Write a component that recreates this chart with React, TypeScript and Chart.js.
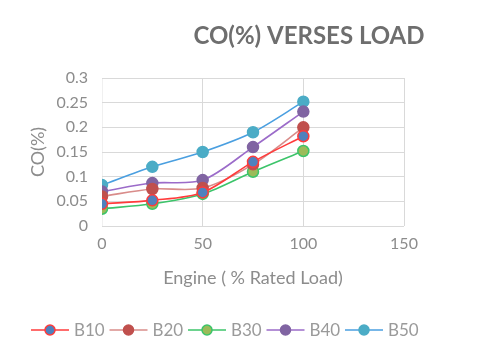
import React, { useEffect, useRef } from "react";
import { Chart, registerables } from "chart.js";
Chart.register(...registerables);

const loads = [0, 25, 50, 75, 100];
const b10 = [0.045, 0.052, 0.068, 0.13, 0.182];
const b20 = [0.06, 0.075, 0.077, 0.125, 0.2];
const b30 = [0.035, 0.045, 0.065, 0.11, 0.152];
const b40 = [0.07, 0.087, 0.093, 0.16, 0.232];
const b50 = [0.083, 0.12, 0.15, 0.19, 0.252];
const seriesNames = ["B10", "B20", "B30", "B40", "B50"];
const lineColors = ["#FF3B3B", "#D98C8A", "#3CC46A", "#9B6BC9", "#4A9FE0"];
const markerFills = ["#4F81BD", "#C0504D", "#9BBB59", "#8064A2", "#4BACC6"];
const markerBorders = ["#FF3B3B", "#C0504D", "#3CC46A", "#8064A2", "#4BACC6"];

const FONT = "Lato, 'Open Sans', sans-serif";

export default function App() {
  const ref = useRef<HTMLCanvasElement>(null);
  useEffect(() => {
    document.body.style.margin = "0";
    const all = [b10, b20, b30, b40, b50];
    const datasets = all.map((vals, i) => ({
      label: seriesNames[i],
      data: loads.map((x, j) => ({ x, y: vals[j] })),
      borderColor: lineColors[i],
      backgroundColor: markerFills[i],
      pointBackgroundColor: markerFills[i],
      pointBorderColor: markerBorders[i],
      pointBorderWidth: 1.5,
      pointRadius: 5.5,
      borderWidth: 1.6,
      tension: 0.3,
      showLine: true,
    }));
    const overlay = {
      id: "overlay",
      afterDraw(chart: any) {
        const ctx = chart.ctx;
        ctx.save();
        ctx.fillStyle = "#6E6E6E";
        ctx.font = `bold 24px ${FONT}`;
        ctx.textAlign = "center";
        ctx.textBaseline = "middle";
        ctx.fillText("CO(%) VERSES LOAD", 309, 36);
        ctx.fillStyle = "#8C8C8C";
        ctx.font = `18px ${FONT}`;
        ctx.fillText("Engine ( % Rated Load)", 253, 278);
        ctx.save();
        ctx.translate(38, 152);
        ctx.rotate(-Math.PI / 2);
        ctx.fillText("CO(%)", 0, 0);
        ctx.restore();
        // legend
        const startX = 31;
        const itemW = 78.5;
        const y = 330;
        ctx.font = `17px ${FONT}`;
        ctx.textAlign = "left";
        for (let i = 0; i < seriesNames.length; i++) {
          const x0 = startX + i * itemW;
          ctx.strokeStyle = lineColors[i];
          ctx.lineWidth = 1.6;
          ctx.beginPath();
          ctx.moveTo(x0, y);
          ctx.lineTo(x0 + 38, y);
          ctx.stroke();
          ctx.beginPath();
          ctx.arc(x0 + 19, y, 5, 0, Math.PI * 2);
          ctx.fillStyle = markerFills[i];
          ctx.fill();
          ctx.lineWidth = 1.5;
          ctx.strokeStyle = markerBorders[i];
          ctx.stroke();
          ctx.fillStyle = "#9A9A9A";
          ctx.fillText(seriesNames[i], x0 + 43, y + 1);
        }
        ctx.restore();
      },
    };
    const chart = new Chart(ref.current!, {
      type: "scatter",
      data: { datasets },
      options: {
        animation: false,
        responsive: false,
        layout: { padding: { left: 0, top: 78, right: 76, bottom: 104 } },
        plugins: { legend: { display: false }, title: { display: false }, tooltip: { enabled: false } },
        scales: {
          x: {
            type: "linear",
            min: 0,
            max: 150,
            ticks: { stepSize: 50, color: "#8C8C8C", font: { family: FONT, size: 16 }, padding: 8 },
            grid: {
              color: (c: any) => (c.tick && c.tick.value === 0 ? "#F0F0F0" : "#D9D9D9"),
              drawTicks: false,
            },
            border: { display: false },
            afterFit(s: any) { s.height = 30; },
          },
          y: {
            min: 0,
            max: 0.3,
            ticks: {
              stepSize: 0.05,
              color: "#8C8C8C",
              font: { family: FONT, size: 16 },
              padding: 14,
              callback: (v: any) => String(Math.round(Number(v) * 100) / 100),
            },
            grid: { color: "#D9D9D9", drawTicks: false },
            border: { display: false },
            afterFit(s: any) { s.width = 102; },
          },
        },
      },
      plugins: [overlay],
    } as any);
    return () => chart.destroy();
  }, []);
  return (
    <div style={{ width: 480, height: 360 }}>
      <canvas ref={ref} width={480} height={360} />
    </div>
  );
}
